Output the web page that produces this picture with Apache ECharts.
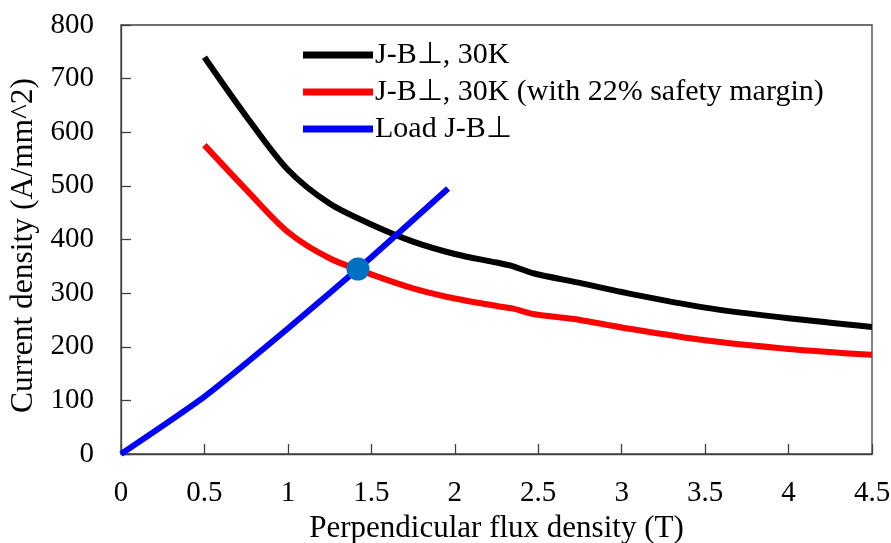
<!DOCTYPE html>
<html><head><meta charset="utf-8">
<script src="https://cdn.jsdelivr.net/npm/echarts@6/dist/echarts.min.js"></script>
<style>html,body{margin:0;padding:0;background:#fff}#c{width:891px;height:543px}</style>
</head><body><div id="c"></div>
<script>
var fluxB = [0.5, 0.75, 1.0, 1.25, 1.5, 1.75, 2.0, 2.25, 2.35, 2.47, 2.75, 3.0, 3.5, 4.0, 4.5];
var jc30K = [740, 630, 530, 467, 428, 396, 373, 357, 350, 337, 319, 302, 273, 253, 237];
var jcMargin = [576, 493, 414, 365, 335, 309, 290, 276, 271, 261, 250, 236, 212, 196, 185];
var loadB = [0, 0.5, 1.0, 1.5, 1.96];
var loadJ = [0, 107, 234, 367, 495];
var opPoint = [1.42, 345];
var seriesNames = ['J-B\u22A5, 30K', 'J-B\u22A5, 30K (with 22% safety margin)', 'Load J-B\u22A5'];
var xTitle = 'Perpendicular flux density (T)';
var yTitle = 'Current density (A/mm^2)';

function pairs(xs, ys) { return xs.map(function (x, i) { return [x, ys[i]]; }); }

var font = 'Liberation Serif, Times New Roman, serif';
var chart = echarts.init(document.getElementById('c'));
chart.setOption({
  animation: false,
  backgroundColor: '#fff',
  textStyle: { fontFamily: font },
  grid: { left: 121, right: 19, top: 25, bottom: 89, show: true, borderColor: '#404040', borderWidth: 1.3,
          containLabel: false, outerBoundsMode: 'none' },
  legend: {
    orient: 'vertical', left: 298, top: 33, itemWidth: 70, itemHeight: 7, itemGap: 3,
    icon: 'rect',
    textStyle: { fontFamily: font, fontSize: 30, color: '#000', lineHeight: 34, padding: [0, 0, 0, -3] },
    data: seriesNames
  },
  xAxis: {
    type: 'value', min: 0, max: 4.5, interval: 0.5,
    name: xTitle, nameLocation: 'middle', nameGap: 57,
    nameTextStyle: { fontFamily: font, fontSize: 31, color: '#000' },
    axisLine: { lineStyle: { color: '#404040', width: 1.3 } },
    axisTick: { inside: true, length: 10, lineStyle: { color: '#404040', width: 1.3 } },
    axisLabel: { fontFamily: font, fontSize: 29, color: '#000', margin: 25 },
    splitLine: { show: false }
  },
  yAxis: {
    type: 'value', min: 0, max: 800, interval: 100,
    name: yTitle, nameLocation: 'middle', nameGap: 78,
    nameTextStyle: { fontFamily: font, fontSize: 31.5, color: '#000', padding: [0, 12, 0, 0] },
    axisLine: { show: true, lineStyle: { color: '#404040', width: 1.3 } },
    axisTick: { show: true, inside: true, length: 10, lineStyle: { color: '#404040', width: 1.3 } },
    axisLabel: { fontFamily: font, fontSize: 29, color: '#000', margin: 27 },
    splitLine: { show: false }
  },
  series: [
    { name: seriesNames[0], type: 'line', data: pairs(fluxB, jc30K), smooth: 0.3, showSymbol: false,
      itemStyle: { color: '#000' }, lineStyle: { color: '#000', width: 6 } },
    { name: seriesNames[1], type: 'line', data: pairs(fluxB, jcMargin), smooth: 0.3, showSymbol: false,
      itemStyle: { color: '#ff0000' }, lineStyle: { color: '#ff0000', width: 6 } },
    { name: seriesNames[2], type: 'line', data: pairs(loadB, loadJ), smooth: 0.2, showSymbol: false,
      itemStyle: { color: '#0000ff' }, lineStyle: { color: '#0000ff', width: 6 } },
    { name: 'op', type: 'scatter', data: [opPoint], symbolSize: 23, z: 5,
      itemStyle: { color: '#0070C0', opacity: 1 } }
  ]
});
</script></body></html>
